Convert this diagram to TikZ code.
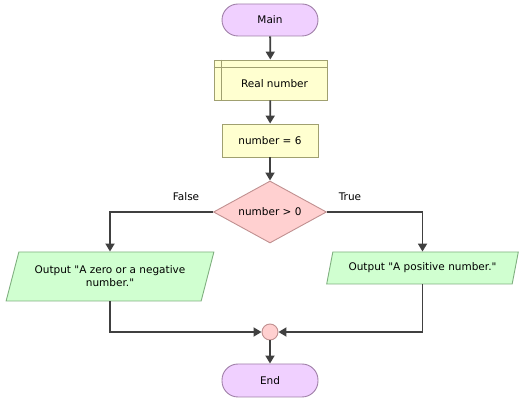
\documentclass[tikz,border=0pt]{standalone}
\usepackage{fontspec}
\setmainfont{DejaVu Sans}[Ligatures = TeXOff]
\usetikzlibrary{arrows.meta}
\usetikzlibrary{shapes.geometric}
\usetikzlibrary{positioning}
\definecolor{termfill}{HTML}{F0D0FF}
\definecolor{termline}{HTML}{A080A8}
\definecolor{boxfill}{HTML}{FFFFD0}
\definecolor{boxline}{HTML}{A0A070}
\definecolor{decfill}{HTML}{FFD0D0}
\definecolor{decline}{HTML}{C09090}
\definecolor{iofill}{HTML}{D0FFD0}
\definecolor{ioline}{HTML}{80B080}
\definecolor{flowline}{HTML}{404040}
\tikzset{term/.style = {draw = termline, fill = termfill, line width = 0.9, rounded corners = 16, minimum width = 96, minimum height = 32, inner sep = 0},
  procbox/.style = {draw = boxline, fill = boxfill, line width = 0.9, minimum width = 96, minimum height = 33, inner sep = 0},
  decide/.style = {draw = decline, fill = decfill, line width = 0.9, diamond, aspect = 1.8, minimum width = 113, minimum height = 62, inner sep = 0},
  io/.style = {draw = ioline, fill = iofill, line width = 0.9, trapezium, trapezium left angle = 63.5, trapezium right angle = 116.5, trapezium stretches = true, inner sep = 0, align = center},
  junct/.style = {draw = decline, fill = decfill, line width = 0.9, circle, minimum size = 16, inner sep = 0},
  flow/.style = {draw = flowline, line width = 1.8, -{Triangle[length = 8, width = 9]}}}

\begin{document}
\begin{tikzpicture}[x = 1pt, y = -1pt, font = \fontsize{10.5}{13}\selectfont]
      \useasboundingbox (0, 0) rectangle (523, 403);
      \node [term] (main) at (270, 20) {Main};
      \node [procbox, minimum width = 113, minimum height = 40, label = {[xshift = 4, yshift = -4]center:Real number}] (decl) at (270.5, 80) {};
      \draw [boxline, line width = 0.9] ([xshift = 8]decl.north west) -- ([xshift = 8]decl.south west);
      \draw [boxline, line width = 0.9] ([yshift = -8]decl.north west) -- ([yshift = -8]decl.north east);
      \node [procbox] (assign) at (270, 140.5) {number = 6};
      \node [decide] (test) at (270, 212) {number > 0};
      \node [io, minimum width = 208, minimum height = 49] (neg) at (110, 276.5) {Output "A zero or a negative\\number."};
      \node [io, minimum width = 192, minimum height = 32] (pos) at (422.5, 268) {Output "A positive number."};
      \node [junct] (join) at (270, 332) {};
      \node [term, minimum height = 33] (end) at (270, 380.5) {End};
      \node (no) at (186, 197) {False};
      \node (yes) at (350, 197) {True};
      \draw [flow] (main) -- (decl);
      \draw [flow] (decl) -- (assign);
      \draw [flow] (assign) -- (test);
      \draw [flow] (test.west) -| (neg.north);
      \draw [flow] (test.east) -| (pos.north);
      \draw [flow] (neg.south) |- (join.west);
      \draw [flow] (pos.south) |- (join.east);
      \draw [flow] (join) -- (end);
    \end{tikzpicture}
\end{document}
